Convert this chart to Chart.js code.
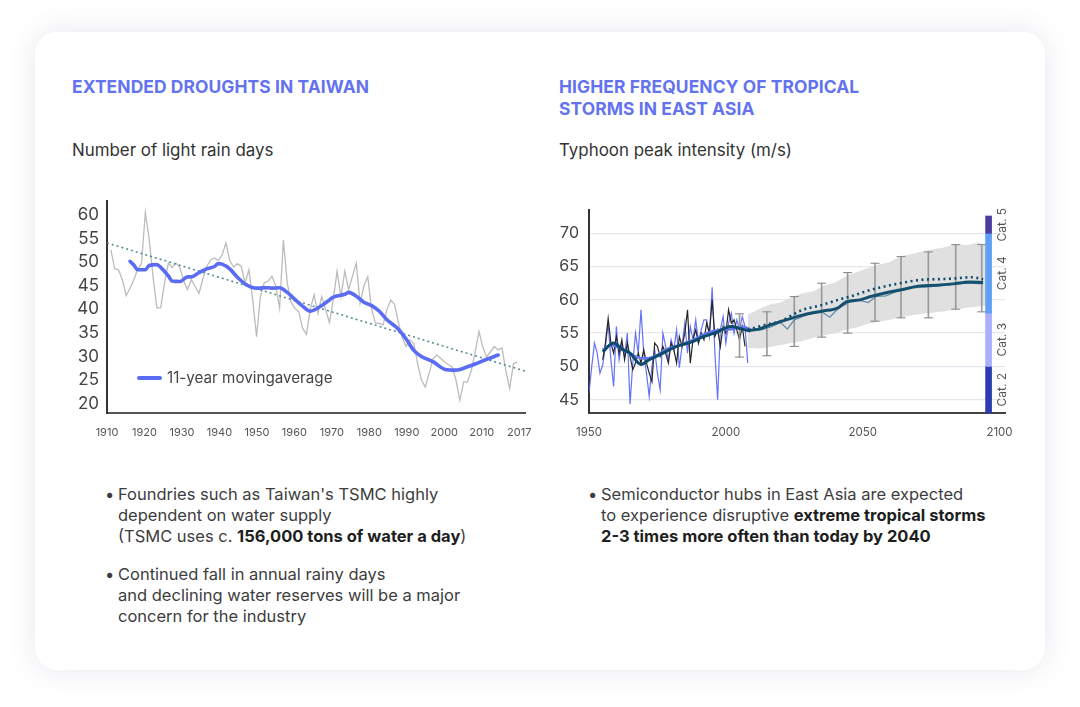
<!DOCTYPE html>
<html>
<head>
<meta charset="utf-8">
<script src="https://cdn.jsdelivr.net/npm/chart.js@4.4.1/dist/chart.umd.min.js"></script>
<style>
  html, body { margin: 0; padding: 0; background: #ffffff; }
  body { width: 1080px; height: 707px; position: relative; overflow: hidden; font-family: 'Inter', 'Noto Sans', sans-serif; color: #3a3a3a; }
  .card { position: absolute; left: 35px; top: 32px; width: 1010px; height: 638px; border-radius: 22px; background: #fff;
          box-shadow: 0 0 28px rgba(70, 80, 130, 0.13); }
  .title { position: absolute; font-weight: 700; font-size: 17.4px; line-height: 22px; color: #6373f0; letter-spacing: 0.1px; }
  .subtitle { position: absolute; font-size: 16.9px; line-height: 22px; color: #333; }
  .box { position: absolute; }
  .bullets { position: absolute; font-size: 16.5px; line-height: 21px; color: #3d3d3d; }
  .bullets p { margin: 0; padding-left: 13px; position: relative; }
  .bullets p::before { content: '•'; position: absolute; left: 0; top: 0; }
  .bullets b { color: #1e1e1e; font-weight: 700; }
  .legend-line { position: absolute; left: 137px; top: 376px; width: 25px; height: 3.5px; border-radius: 2px; background: #5b6cf4; }
  .legend-text { position: absolute; left: 167px; top: 368px; font-size: 15.2px; line-height: 20px; color: #444; }
</style>
</head>
<body>
<div class="card"></div>

<div class="title" style="left:72px; top:76px;">EXTENDED DROUGHTS IN TAIWAN</div>
<div class="title" style="left:559px; top:76px;">HIGHER FREQUENCY OF TROPICAL<br>STORMS IN EAST ASIA</div>
<div class="subtitle" style="left:72px; top:139px;">Number of light rain days</div>
<div class="subtitle" style="left:559px; top:139px;">Typhoon peak intensity (m/s)</div>

<div class="box" style="left:40px; top:190px; width:500px; height:265px;"><canvas id="rainChart"></canvas></div>
<div class="box" style="left:550px; top:195px; width:480px; height:260px;"><canvas id="stormChart"></canvas></div>

<div class="legend-line"></div>
<div class="legend-text">11-year movingaverage</div>

<div class="bullets" style="left:105px; top:484px;">
  <p>Foundries such as Taiwan's TSMC highly<br>dependent on water supply<br>(TSMC uses c. <b>156,000 tons of water a day</b>)</p>
</div>
<div class="bullets" style="left:105px; top:564px;">
  <p>Continued fall in annual rainy days<br>and declining water reserves will be a major<br>concern for the industry</p>
</div>
<div class="bullets" style="left:588px; top:484px;">
  <p>Semiconductor hubs in East Asia are expected<br>to experience disruptive <b>extreme tropical storms<br>2-3 times more often than today by 2040</b></p>
</div>

<script>
// ---------- Left chart data: light rain days in Taiwan ----------
const rainStartYear = 1911;
const rainDays = [
  52.7, 48.6, 48.4, 46.3, 42.9, 44.5, 46.3, 48.5, 49.8, 60.6,   // 1911-1920
  54.8, 47.0, 40.3, 40.3, 45.6, 49.8, 48.9, 49.8, 48.9, 46.0,   // 1921-1930
  44.2, 46.3, 44.8, 43.4, 46.5, 49.1, 50.5, 50.9, 50.4, 51.5,   // 1931-1940
  54.1, 50.4, 49.0, 49.7, 49.1, 45.6, 48.4, 42.0, 34.2, 42.7,   // 1941-1950
  45.6, 46.0, 47.0, 45.0, 40.3, 54.7, 45.6, 41.5, 40.2, 39.5,   // 1951-1960
  36.0, 34.7, 40.0, 43.1, 39.2, 42.7, 40.0, 37.2, 42.0, 48.1,   // 1961-1970
  42.7, 48.1, 44.2, 47.0, 49.8, 41.3, 45.0, 46.9, 40.0, 37.1,   // 1971-1980
  37.0, 36.7, 40.0, 42.0, 41.0, 37.1, 34.0, 32.1, 33.5, 32.8,   // 1981-1990
  28.5, 25.0, 23.5, 26.4, 29.5, 30.3, 29.6, 28.9, 28.3, 27.8,   // 1991-2000
  25.0, 20.7, 24.6, 24.6, 27.0, 31.0, 35.3, 32.0, 29.9, 31.0,   // 2001-2010
  32.1, 31.4, 31.8, 27.0, 23.2, 28.5, 28.8                      // 2011-2017
];
// 11-year moving average
const maYears  = [1916, 1917, 1918, 1920, 1921, 1923, 1924, 1926, 1927, 1929, 1931, 1932, 1934, 1936, 1938, 1939, 1940,
                  1942, 1944, 1946, 1949, 1952, 1953, 1955, 1957, 1959, 1961, 1963, 1965, 1968, 1969, 1972, 1973, 1975,
                  1977, 1979, 1981, 1983, 1986, 1988, 1990, 1992, 1995, 1998, 2001, 2004, 2006, 2009, 2012];
const maValues = [50.2, 49.4, 48.4, 48.4, 49.3, 49.5, 48.9, 47.1, 46.0, 45.9, 46.9, 46.9, 47.8, 48.6, 49.1, 49.7, 49.6,
                  48.6, 46.8, 45.4, 44.5, 44.6, 44.5, 44.6, 43.6, 42.1, 40.7, 39.6, 40.3, 42.0, 42.6, 43.2, 43.6, 42.8,
                  41.5, 40.8, 39.6, 37.8, 35.8, 33.7, 31.3, 30.0, 28.9, 27.3, 27.1, 27.8, 28.4, 29.4, 30.3];
// linear trend (dotted)
const trendYears  = [1910, 2019];
const trendValues = [54.1, 26.9];
// axis ticks
const rainXLabels = ['1910', '1920', '1930', '1940', '1950', '1960', '1970', '1980', '1990', '2000', '2010', '2017'];
const rainYTicks  = [20, 25, 30, 35, 40, 45, 50, 55, 60];

// ---------- Right chart data: typhoon peak intensity ----------
const blueStartYear = 1950;
const blueObs = [
  46.0, 50.0, 53.5, 52.0, 49.0, 50.2, 53.0, 56.5, 51.0, 47.0,   // 1950-1959
  56.0, 51.0, 53.5, 51.5, 55.0, 44.3, 50.5, 55.0, 52.0, 58.5,   // 1960-1969
  52.0, 49.0, 45.5, 50.0, 52.5, 49.0, 46.5, 55.0, 53.0, 51.0,   // 1970-1979
  54.0, 52.5, 55.5, 49.8, 53.0, 56.5, 52.0, 56.0, 54.0, 57.0,   // 1980-1989
  53.5, 55.5, 57.0, 57.0, 54.5, 61.9, 52.0, 45.0, 55.5, 57.5,   // 1990-1999
  53.5, 56.5, 58.0, 55.0, 57.0, 55.5, 57.5, 56.0, 50.5          // 2000-2008
];
const blackStartYear = 1955;
const blackObs = [
  51.0, 53.5, 57.2, 53.5, 52.0,                                 // 1955-1959
  54.5, 52.0, 54.0, 51.0, 53.5, 51.5, 49.5, 50.5, 52.0, 50.5,   // 1960-1969
  52.5, 50.5, 49.0, 47.7, 53.5, 53.0, 51.5, 53.0, 52.0, 50.5,   // 1970-1979
  53.5, 52.5, 50.5, 54.5, 53.0, 55.0, 58.5, 50.5, 54.0, 55.5,   // 1980-1989
  53.5, 55.0, 54.0, 56.5, 55.0, 60.0, 54.5, 55.5, 53.0, 56.0,   // 1990-1999
  55.0, 58.5, 56.5, 57.0, 55.5, 54.0, 56.0, 53.0                // 2000-2007
];
const lightSmoothYears  = [1955, 1958, 1961, 1964, 1967, 1970, 1974, 1978, 1983, 1988, 1993, 1998, 2002, 2006, 2009];
const lightSmoothValues = [52.5, 53.2, 52.8, 52.2, 51.5, 51.2, 51.5, 52.5, 53.2, 54.0, 55.0, 55.5, 55.6, 56.0, 55.6];
const darkSmoothYears   = [1955, 1959, 1962, 1965, 1969, 1972, 1977, 1982, 1987, 1992, 1997, 2000, 2002, 2005, 2009];
const darkSmoothValues  = [52.2, 53.5, 52.6, 52.0, 50.3, 51.0, 52.0, 53.0, 53.6, 54.5, 55.2, 55.8, 56.0, 55.7, 55.3];
// projection mean (solid), high scenario (dotted), single run (thin)
const projYears   = [2008, 2012, 2016, 2022, 2028, 2035, 2041, 2044, 2049, 2053, 2059, 2065, 2071, 2077, 2083, 2089, 2094];
const projValues  = [55.4, 55.6, 56.2, 57.0, 57.7, 58.3, 58.8, 59.7, 60.0, 60.5, 61.1, 61.6, 62.1, 62.2, 62.4, 62.7, 62.6];
const dotYears    = [2008, 2014, 2020, 2028, 2034, 2041, 2047, 2053, 2059, 2065, 2071, 2077, 2083, 2090, 2094];
const dotValues   = [55.5, 56.2, 56.8, 58.5, 59.1, 60.0, 60.7, 61.5, 62.1, 62.6, 63.0, 63.1, 63.2, 63.4, 63.1];
const runYears    = [2008, 2013, 2017, 2020, 2022.5, 2025, 2030, 2035, 2038, 2041, 2045, 2049, 2052, 2055, 2058.5, 2062, 2068, 2075, 2082, 2088, 2094];
const runValues   = [55.3, 55.5, 56.0, 56.6, 55.6, 57.0, 57.8, 58.2, 57.4, 58.7, 59.6, 59.9, 59.6, 60.5, 60.6, 61.2, 61.8, 62.0, 62.3, 62.5, 62.4];
// model spread (grey band)
const bandYears = [2008, 2012, 2016, 2020, 2024, 2028, 2032, 2036, 2040, 2044, 2048, 2052, 2056, 2060, 2064, 2068, 2072, 2076, 2080, 2084, 2088, 2092, 2096];
const bandHigh  = [57.8, 58.6, 59.3, 59.6, 60.4, 61.0, 61.3, 62.2, 62.6, 63.6, 64.2, 64.8, 65.3, 65.7, 66.6, 66.9, 67.3, 67.6, 67.9, 68.4, 68.2, 68.6, 68.1];
const bandLow   = [52.8, 52.7, 52.9, 53.2, 53.5, 53.8, 54.3, 54.7, 55.0, 55.5, 55.9, 56.4, 56.7, 57.0, 57.4, 57.7, 57.9, 58.1, 58.3, 58.6, 58.8, 59.0, 59.1];
// error bars
const errYears = [2005, 2015, 2025, 2035, 2044.5, 2054.5, 2064, 2074, 2084, 2093.5];
const errLow   = [51.4, 51.6, 53.0, 54.4, 55.0, 56.8, 57.3, 57.3, 58.6, 58.2];
const errHigh  = [57.9, 58.2, 60.5, 62.5, 64.1, 65.5, 66.5, 67.2, 68.3, 68.3];
// typhoon categories strip
const catX      = 2096;
const catLabels = ['Cat. 2', 'Cat. 3', 'Cat. 4', 'Cat. 5'];
const catLow    = [43, 50, 58, 70];
const catHigh   = [50, 58, 70, 72.6];
const catColors = ['#2b3bb0', '#a9affa', '#5f9ff5', '#4b3c9e'];
// axis ticks
const stormXTicks = [1950, 2000, 2050, 2100];
const stormYTicks = [45, 50, 55, 60, 65, 70];

const pairs = (xs, ys) => xs.map((x, i) => ({ x: x, y: ys[i] }));
const series = (start, ys) => ys.map((y, i) => ({ x: start + i, y: y }));

Chart.defaults.font.family = "'Inter', 'Noto Sans', sans-serif";
Chart.defaults.animation = false;
Chart.defaults.events = [];
Chart.defaults.plugins.legend.display = false;
Chart.defaults.plugins.tooltip.enabled = false;

const noPad = (s) => { s.paddingLeft = 0; s.paddingRight = 0; s.paddingTop = 0; s.paddingBottom = 0; };

// ---------- Left chart ----------
new Chart(document.getElementById('rainChart'), {
  type: 'scatter',
  data: {
    datasets: [
      {
        type: 'line', data: pairs(maYears, maValues),
        borderColor: '#5b6cf4', borderWidth: 3.6, pointRadius: 0, cubicInterpolationMode: 'monotone',
        borderCapStyle: 'round', borderJoinStyle: 'round'
      },
      {
        type: 'line', data: pairs(trendYears, trendValues),
        borderColor: '#5a8d92', borderWidth: 1.6, borderDash: [2, 3], pointRadius: 0
      },
      {
        type: 'line', data: series(rainStartYear, rainDays),
        borderColor: '#bcbcbc', borderWidth: 1.3, pointRadius: 0, tension: 0
      }
    ]
  },
  options: {
    responsive: true,
    maintainAspectRatio: false,
    layout: { padding: { top: 11, right: 15, bottom: 12, left: 0 } },
    scales: {
      x: {
        type: 'linear', min: 1910, max: 2019, offset: false,
        grid: { display: true, color: 'transparent', drawTicks: false },
        border: { display: true, color: '#555', width: 2 },
        afterBuildTicks: (s) => {
          const step = (2017.5 - 1910) / (rainXLabels.length - 1);
          s.ticks = rainXLabels.map((_, i) => ({ value: 1910 + i * step }));
        },
        afterFit: (s) => { s.height = 30; noPad(s); },
        ticks: { padding: 13, color: '#555', font: { size: 11 }, maxRotation: 0, autoSkip: false,
                 callback: (v, i) => rainXLabels[i] }
      },
      y: {
        type: 'linear', min: 18, max: 63,
        grid: { display: true, color: 'transparent', drawTicks: false },
        border: { display: true, color: '#333', width: 2 },
        afterBuildTicks: (s) => { s.ticks = rainYTicks.map(v => ({ value: v })); },
        afterFit: (s) => { s.width = 67; noPad(s); },
        ticks: { padding: 8, color: '#444', font: { size: 17 } }
      }
    }
  }
});

// ---------- Right chart ----------
const catLabelPlugin = {
  id: 'catLabels',
  afterDatasetsDraw(chart) {
    const { ctx, scales: { x, y } } = chart;
    ctx.save();
    ctx.font = "12px 'Inter', 'Noto Sans', sans-serif";
    ctx.fillStyle = '#555';
    ctx.textAlign = 'center';
    ctx.textBaseline = 'middle';
    catLabels.forEach((lab, i) => {
      const yMid = (y.getPixelForValue(catLow[i]) + y.getPixelForValue(catHigh[i])) / 2;
      ctx.save();
      ctx.translate(x.getPixelForValue(catX) + 14, yMid);
      ctx.rotate(-Math.PI / 2);
      ctx.fillText(lab, 0, 0);
      ctx.restore();
    });
    ctx.restore();
  }
};

new Chart(document.getElementById('stormChart'), {
  type: 'scatter',
  data: {
    datasets: [
      {
        type: 'bar', data: catLow.map((lo, i) => ({ x: catX, y: [lo, catHigh[i]] })),
        backgroundColor: catColors, borderWidth: 0, barThickness: 6, grouped: false
      },
      {
        type: 'line', data: pairs(darkSmoothYears, darkSmoothValues),
        borderColor: '#0e4a6c', borderWidth: 3, pointRadius: 0, cubicInterpolationMode: 'monotone'
      },
      {
        type: 'line', data: pairs(projYears, projValues),
        borderColor: '#15506f', borderWidth: 3, pointRadius: 0, cubicInterpolationMode: 'monotone'
      },
      {
        type: 'line', data: pairs(dotYears, dotValues),
        borderColor: '#0e4a6c', borderWidth: 2.6, borderDash: [2, 3.5], pointRadius: 0, cubicInterpolationMode: 'monotone'
      },
      {
        type: 'line', data: pairs(runYears, runValues),
        borderColor: '#5f8aa3', borderWidth: 1.2, pointRadius: 0
      },
      {
        type: 'line', data: pairs(errYears, errHigh).concat(pairs(errYears, errLow)),
        showLine: false, pointStyle: 'line', pointRadius: 4.5, borderColor: '#8c8c8c', pointBorderWidth: 1.1
      },
      {
        type: 'bar', data: errLow.map((lo, i) => ({ x: errYears[i], y: [lo, errHigh[i]] })),
        backgroundColor: '#9a9a9a', borderWidth: 0, barThickness: 1, grouped: false
      },
      {
        type: 'line', data: pairs(lightSmoothYears, lightSmoothValues),
        borderColor: '#6677f2', borderWidth: 2.5, pointRadius: 0, cubicInterpolationMode: 'monotone'
      },
      {
        type: 'line', data: series(blackStartYear, blackObs),
        borderColor: '#262626', borderWidth: 1.2, pointRadius: 0
      },
      {
        type: 'line', data: series(blueStartYear, blueObs),
        borderColor: 'rgba(72, 92, 245, 0.85)', borderWidth: 1.2, pointRadius: 0
      },
      {
        type: 'line', data: pairs(bandYears, bandHigh),
        borderColor: 'transparent', borderWidth: 0, pointRadius: 0, fill: '+1', backgroundColor: '#e0e0e0'
      },
      {
        type: 'line', data: pairs(bandYears, bandLow),
        borderColor: 'transparent', borderWidth: 0, pointRadius: 0
      }
    ]
  },
  options: {
    responsive: true,
    maintainAspectRatio: false,
    layout: { padding: { top: 15, right: 25, bottom: 12, left: 0 } },
    scales: {
      x: {
        type: 'linear', min: 1950, max: 2102, offset: false,
        grid: { display: true, color: 'transparent', drawTicks: false },
        border: { display: true, color: '#444', width: 2 },
        afterBuildTicks: (s) => { s.ticks = stormXTicks.map(v => ({ value: v })); },
        afterFit: (s) => { s.height = 30; noPad(s); },
        ticks: { padding: 13, color: '#555', font: { size: 11.5 }, maxRotation: 0, autoSkip: false,
                 callback: (v) => String(v) }
      },
      y: {
        type: 'linear', min: 43, max: 73.5,
        grid: { display: true, color: '#e6e6ee', lineWidth: 1.3, drawTicks: false },
        border: { display: true, color: '#333', width: 2 },
        afterBuildTicks: (s) => { s.ticks = stormYTicks.map(v => ({ value: v })); },
        afterFit: (s) => { s.width = 39; noPad(s); },
        ticks: { padding: 10, color: '#444', font: { size: 16 } }
      }
    }
  },
  plugins: [catLabelPlugin]
});
</script>
</body>
</html>
